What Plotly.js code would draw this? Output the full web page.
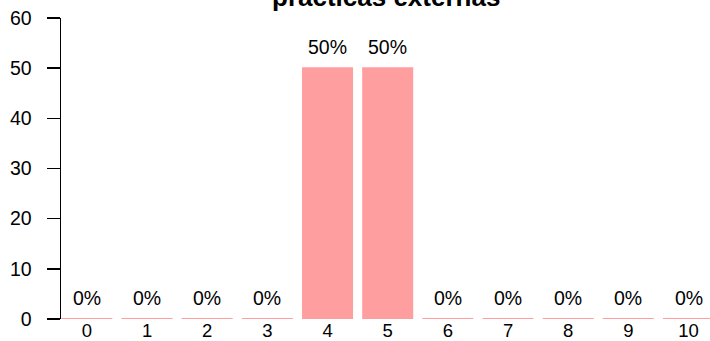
<!DOCTYPE html>
<html><head><meta charset="utf-8">
<script src="https://cdn.plot.ly/plotly-3.0.1.min.js"></script>
<style>html,body{margin:0;padding:0;background:#fff}#c{width:710px;height:341px}</style>
</head><body><div id="c"></div>
<script>
const categories = [0,1,2,3,4,5,6,7,8,9,10];
const values = [0,0,0,0,50,50,0,0,0,0,0];
const tickLabels = ["0","1","2","3","4","5","6","7","8","9","10"];
const yTicks = [0,10,20,30,40,50,60];
const chartTitle = "practicas externas";

const total = values.reduce((a,b)=>a+b,0);
const pct = values.map(v => Math.round(v/total*100) + '%');
const color = '#ff9e9e';
const half = 0.424;
const F = 'Liberation Sans, Arial, sans-serif';

const bars = {type:'bar', x:categories, y:values, width:2*half, marker:{color:color}, hoverinfo:'skip'};
const ex=[], ey=[];
categories.forEach((c,i)=>{ex.push(c-half, c+half, null); ey.push(values[i], values[i], null);});
const edges = {type:'scatter', mode:'lines', x:ex, y:ey, line:{color:color, width:2}, hoverinfo:'skip'};

const annotations = categories.map((c,i)=>({x:c, y:values[i], xref:'x', yref:'y', text:pct[i], showarrow:false,
  yanchor:'bottom', yshift:8, font:{family:F, size:19.5, color:'#000'}}));
annotations.push({x:0.5, y:1.013, xref:'paper', yref:'paper', xanchor:'center', yanchor:'bottom', showarrow:false,
  text:'<b>'+chartTitle+'</b>', font:{family:F, size:26, color:'#000'}});

const layout = {
  width:710, height:341, margin:{l:61, r:0, t:18, b:22},
  paper_bgcolor:'#fff', plot_bgcolor:'#fff', showlegend:false,
  font:{family:F, size:19.5, color:'#000'},
  xaxis:{range:[-0.43,10.357], tickvals:categories, ticktext:tickLabels, showline:false, ticks:'', showgrid:false, zeroline:false, fixedrange:true,
    tickfont:{family:F, size:18.5, color:'#000'}, ticklabelstandoff:-2},
  yaxis:{range:[0,60], tickvals:yTicks, showline:true, linecolor:'#000', linewidth:1.5, ticks:'outside', ticklen:13, tickwidth:1.5, tickcolor:'#000', showgrid:false, zeroline:false, ticklabelstandoff:11},
  annotations:annotations
};
Plotly.newPlot('c', [bars, edges], layout, {staticPlot:true, displayModeBar:false});
</script></body></html>
